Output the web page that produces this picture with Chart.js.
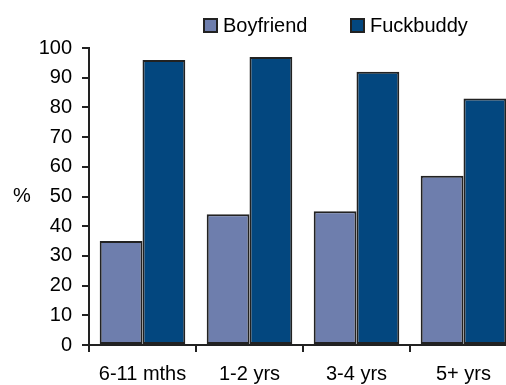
<!DOCTYPE html>
<html>
<head>
<meta charset="utf-8">
<script src="https://cdn.jsdelivr.net/npm/chart.js@4/dist/chart.umd.min.js"></script>
<style>
  html, body { margin: 0; padding: 0; background: #fff; overflow: hidden; }
  #wrap { width: 518px; height: 385px; }
</style>
</head>
<body>
<div id="wrap"><canvas id="relChart" width="518" height="385"></canvas></div>
<script>
const categories = ["6-11 mths", "1-2 yrs", "3-4 yrs", "5+ yrs"];
const boyfriend = [35, 44, 45, 57];
const fuckbuddy = [96, 97, 92, 83];
const seriesNames = ["Boyfriend", "Fuckbuddy"];
const seriesColors = ["#6e7ead", "#03477f"];
const yTicks = [0, 10, 20, 30, 40, 50, 60, 70, 80, 90, 100];

const FONT = "'Liberation Sans', Arial, sans-serif";
const INK = "#222";

// legend and the horizontal "%" label are drawn by hand
const extras = {
  id: "extras",
  afterDraw(chart) {
    const c = chart.ctx;
    const y = chart.scales.y;
    c.save();
    c.font = "20px " + FONT;
    c.fillStyle = "#000";
    c.textBaseline = "middle";
    c.textAlign = "center";
    c.fillText("%", 22, y.getPixelForValue(50));

    const starts = [203, 350];
    c.textAlign = "left";
    chart.data.datasets.forEach((ds, i) => {
      const x = starts[i];
      c.fillStyle = ds.backgroundColor;
      c.fillRect(x, 18, 15, 15);
      c.strokeStyle = INK;
      c.lineWidth = 2;
      c.strokeRect(x + 1, 19, 13, 13);
      c.fillStyle = "#000";
      c.fillText(ds.label, x + 20, 26);
    });
    c.restore();
  }
};

new Chart(document.getElementById("relChart"), {
  type: "bar",
  data: {
    labels: categories,
    datasets: [
      { label: seriesNames[0], data: boyfriend, backgroundColor: seriesColors[0] },
      { label: seriesNames[1], data: fuckbuddy, backgroundColor: seriesColors[1] }
    ].map(d => Object.assign(d, {
      borderColor: INK,
      borderWidth: 2,
      borderSkipped: false,
      categoryPercentage: 0.8,
      barPercentage: 1.0
    }))
  },
  options: {
    responsive: false,
    animation: false,
    layout: { padding: { top: 48, right: 1, bottom: 0, left: 0 } },
    plugins: {
      legend: { display: false },
      tooltip: { enabled: false }
    },
    scales: {
      x: {
        afterFit(s) { s.height = 40; },
        grid: {
          offset: true,
          drawOnChartArea: false,
          drawTicks: true,
          tickLength: 7,
          color: INK,
          lineWidth: 2
        },
        border: { color: INK, width: 2 },
        ticks: { color: "#000", font: { family: FONT, size: 20 }, padding: 10 }
      },
      y: {
        min: 0,
        max: 100,
        afterFit(s) { s.width = 89; },
        afterBuildTicks(s) { s.ticks = yTicks.map(v => ({ value: v })); },
        grid: {
          drawOnChartArea: false,
          drawTicks: true,
          tickLength: 7,
          color: INK,
          lineWidth: 2
        },
        border: { color: INK, width: 2 },
        ticks: { color: "#000", font: { family: FONT, size: 20 }, padding: 10 }
      }
    }
  },
  plugins: [extras]
});
</script>
</body>
</html>
